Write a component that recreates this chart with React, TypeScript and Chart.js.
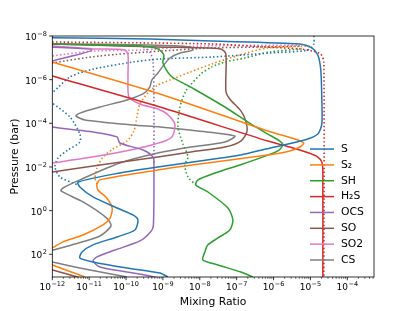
import React, { useEffect, useRef } from "react";
import { Chart, registerables } from "chart.js";
Chart.register(...registerables);

// ---------- data (mixing ratio, pressure in bar) ----------
const speciesNames = ["S", "S₂", "SH", "H₂S", "OCS", "SO", "SO2", "CS"];
const speciesColors = ["#1f77b4", "#ff7f0e", "#2ca02c", "#d62728", "#9467bd", "#8c564b", "#e377c2", "#7f7f7f"];

const sSolid = [[6e-13,1.15e-8],[1e-12,1.2e-8],[4.4e-10,1.37e-8],[2.1e-8,1.69e-8],[5.2e-6,2.3e-8],[1.09e-5,3.5e-8],[1.59e-5,7.4e-8],[1.91e-5,3.6e-7],[2.04e-5,8.5e-6],[2.04e-5,1.07e-4],[1.59e-5,3.1e-4],[7.0e-6,5.8e-4],[6.2e-7,1.5e-3],[1.3e-7,2.8e-3],[1.0e-8,5.3e-3],[7.3e-10,1.0e-2],[6.8e-11,1.89e-2],[5.0e-12,4.9e-2],[5.6e-12,8.3e-2],[1.27e-11,0.237],[5.7e-11,0.76],[1.54e-10,1.58],[2.1e-10,2.7],[1.74e-10,7.7],[5.7e-11,16.1],[1.27e-11,37],[6.4e-12,78],[5.6e-12,148],[1.27e-11,224],[1.06e-10,425],[8.3e-10,720],[1.36e-9,1.1e3]];
const sDotted = [[1.24e-5,1e-8],[1.24e-5,2.3e-8],[8.5e-6,4.4e-8],[7.9e-7,6.0e-8],[2.1e-8,9.2e-8],[8.3e-10,1.13e-7],[1.54e-10,1.55e-7],[1.27e-11,3.3e-7],[3.0e-12,7.5e-7],[1.05e-12,3.7e-6],[6.3e-13,6.2e-6],[1e-12,1.17e-5],[3.0e-12,5.1e-5],[5.6e-12,3.1e-4],[5.6e-12,7.2e-4],[2.66e-12,1.67e-3],[1.43e-12,3.9e-3],[1.18e-12,1.0e-2],[1.62e-12,2.9e-2],[5.0e-12,6.7e-2]];

const s2Solid = [[4.6e-13,1.02e-7],[1e-12,1.55e-7],[8.3e-10,4.5e-6],[7.0e-7,2.25e-4],[3.8e-6,5.2e-4],[6.6e-6,8.0e-4],[5.2e-6,1.22e-3],[2.77e-6,1.85e-3],[7.0e-7,2.8e-3],[1.0e-8,7.3e-3],[7.3e-10,1.37e-2],[1.96e-11,3.9e-2],[1.63e-11,6.0e-2],[1.73e-11,0.113],[3.0e-11,0.264],[4.2e-11,0.76],[3.7e-11,2.2],[2.37e-11,4.5],[6.8e-12,13.1],[1.95e-12,27],[1e-12,51],[4.6e-13,87],[4.6e-13,182],[1e-12,309],[7.7e-12,1.1e3]];
const s2Dotted = [[9.6e-6,2.9e-8],[7.0e-7,3.5e-8],[1.22e-7,7.4e-8],[2.1e-8,1.92e-7],[5.4e-9,4.5e-7],[1.55e-9,1.04e-6],[7.3e-10,1.76e-6],[4.4e-10,3.3e-6],[2.38e-10,1.3e-5],[1.97e-10,5.1e-5],[1.64e-10,2.25e-4],[1.06e-10,6.5e-4],[4.4e-11,1.5e-3],[2.37e-11,3.5e-3],[1.63e-11,1.11e-2],[1.44e-11,3.2e-2],[1.63e-11,6.0e-2]];

const shSolid = [[1e-12,2.3e-8],[2.38e-10,2.9e-8],[7.3e-10,3.9e-8],[1.06e-9,7.4e-8],[1.0e-9,1.73e-7],[1.65e-9,6.8e-7],[5.7e-9,2.2e-6],[4.8e-8,1.79e-5],[2.4e-7,1.07e-4],[7.0e-7,3.1e-4],[1.48e-6,6.5e-4],[1.79e-6,9.8e-4],[1.31e-6,1.85e-3],[6.2e-7,3.1e-3],[1.22e-7,8.1e-3],[2.6e-8,1.89e-2],[8.9e-9,3.9e-2],[7.8e-9,6.7e-2],[1.66e-8,0.14],[5.8e-8,0.76],[7.9e-8,2.7],[6.5e-8,7.7],[3.1e-8,17.9],[1.66e-8,37],[1.37e-8,78],[1.21e-8,182],[3.1e-8,309],[1.3e-7,650],[2.75e-7,1.1e3]];
const shDotted = [[5.8e-6,3.9e-8],[7.9e-7,5.4e-8],[1.67e-7,1.02e-7],[4.8e-8,1.55e-7],[2.1e-8,2.6e-7],[1.07e-8,5.5e-7],[4.2e-9,3.3e-6],[2.9e-9,1.79e-5],[2.55e-9,1.48e-4],[3.5e-9,8.9e-4],[4.8e-9,3.5e-3],[3.9e-9,8.1e-3],[4.8e-9,2.9e-2],[7.8e-9,6.7e-2]];

const h2sSolid = [[4.6e-13,4.5e-7],[1e-12,6.8e-7],[8.3e-10,1.79e-5],[7.0e-7,6.5e-4],[2.77e-6,1.22e-3],[9.1e-6,2.3e-3],[1.59e-5,3.5e-3],[2.04e-5,5.9e-3],[2.17e-5,1.37e-2],[2.17e-5,1.1e3]];
const h2sDotted = [[1e-12,1.88e-8],[2.1e-8,2.3e-8],[6.2e-7,3.2e-8],[5.2e-6,3.9e-8],[1.16e-5,4.9e-8],[1.91e-5,6.7e-8],[2.31e-5,1.55e-7],[2.31e-5,1.1e3]];

const ocsSolid = [[2.5e-13,2.6e-8],[1e-12,3.2e-8],[1.19e-11,4.4e-8],[1e-12,1.4e-7],[2.5e-13,2.9e-7],[2.5e-13,7.0e-5],[1e-12,1.48e-4],[1.27e-11,2.5e-4],[5.7e-11,4.2e-4],[6.8e-11,8.0e-4],[2.87e-10,1.67e-3],[5.4e-10,3.5e-3],[5.7e-10,8.1e-3],[5.5e-10,5.0],[4.6e-10,9.5],[2.38e-10,24.5],[5.0e-11,64],[1.63e-11,132],[1.27e-11,200],[1.96e-11,385],[1.06e-10,650],[4.4e-10,985],[7.3e-10,1.2e3]];
const ocsDotted = [[1e-12,2.3e-8],[2.38e-10,2.9e-8],[4.4e-10,5.4e-8],[5.4e-10,1.55e-7],[5.7e-10,8.5e-6],[5.7e-10,8.1e-3]];

const soSolid = [[1e-12,2.3e-8],[7.3e-10,3.2e-8],[3.7e-8,3.9e-8],[5.1e-8,6.7e-8],[5.1e-8,3.3e-6],[6.5e-8,7.7e-6],[1.3e-7,2.7e-5],[1.77e-7,7.8e-5],[1.89e-7,2.5e-4],[1.3e-7,6.5e-4],[4.8e-8,1.22e-3],[5.7e-9,2.06e-3],[7.3e-10,3.5e-3],[1.96e-11,8.1e-3],[1e-12,1.7e-2],[2.5e-13,2.3e-2],[2.5e-13,309],[1e-12,525],[5.6e-12,1.2e3]];
const soDotted = [[2.5e-13,3.6e-7],[1.05e-12,1.73e-7],[1.96e-11,8.2e-8],[8.3e-10,4.9e-8],[2.3e-8,3.5e-8],[4.3e-7,3.2e-8],[5.2e-6,2.9e-8]];

const so2Solid = [[2.5e-13,2.6e-8],[1e-12,2.9e-8],[1.27e-11,3.9e-8],[9.3e-11,4.4e-8],[1.13e-10,7.4e-8],[1.13e-10,7.5e-7],[1.2e-10,6.2e-6],[2.38e-10,1.3e-5],[7.3e-10,2.2e-5],[1.28e-9,3.7e-5],[2.0e-9,8.7e-5],[2.1e-9,1.64e-4],[1.76e-9,4.2e-4],[1.13e-9,6.5e-4],[6.1e-10,8.9e-4],[2.38e-10,1.35e-3],[1.96e-11,3.1e-3],[1e-12,6.6e-3],[2.5e-13,9.0e-3]];
const so2Dotted = [[2.5e-13,1.26e-7],[1e-12,8.2e-8],[1.27e-11,4.9e-8],[2.38e-10,4.4e-8],[1e-8,2.9e-8],[5.2e-6,2.6e-8]];

const csSolid = [[2.5e-13,2.3e-8],[1e-12,2.3e-8],[4.4e-10,2.6e-8],[5.7e-9,3.2e-8],[6.5e-9,4.4e-8],[2.9e-9,6.0e-8],[1.55e-9,1.02e-7],[1e-9,2.4e-7],[7.3e-10,5.0e-7],[5.0e-10,1.04e-6],[4.4e-10,2.2e-6],[2.87e-10,4.5e-6],[1.06e-10,8.5e-6],[1.96e-11,1.79e-5],[5.6e-12,3.4e-5],[4.4e-12,4.6e-5],[7.7e-12,7.0e-5],[1.54e-10,1.19e-4],[8.3e-10,1.48e-4],[8.9e-9,2.25e-4],[8.9e-8,3.8e-4],[4.8e-8,7.2e-4],[5.7e-9,1.22e-3],[7.3e-10,2.3e-3],[6.8e-11,6.6e-3],[5.6e-12,3.9e-2],[1.95e-12,9.2e-2],[1.72e-12,0.126],[6.8e-12,0.40],[3.0e-11,2.2],[3.9e-11,5.0],[1.96e-11,14.5],[4.1e-12,34],[1.05e-12,64],[4.6e-13,97],[4.6e-13,148],[1e-12,224],[1.05e-11,525],[1.06e-10,1.1e3]];

const solidSeries = [sSolid, s2Solid, shSolid, h2sSolid, ocsSolid, soSolid, so2Solid, csSolid];
const dottedSeries = [sDotted, s2Dotted, shDotted, h2sDotted, ocsDotted, soDotted, so2Dotted, null];

// ---------- axes ----------
const X_MIN = 1e-12, X_MAX = 5.3e-4, Y_MIN = 1e-8, Y_MAX = 1.1e3;
const xMajor = [1e-12, 1e-11, 1e-10, 1e-9, 1e-8, 1e-7, 1e-6, 1e-5, 1e-4];
const xMajorExp = ["−12", "−11", "−10", "−9", "−8", "−7", "−6", "−5", "−4"];
const yMajor = [1e-8, 1e-6, 1e-4, 1e-2, 1, 1e2];
const yMajorExp = ["−8", "−6", "−4", "−2", "0", "2"];
const xLabel = "Mixing Ratio";
const yLabel = "Pressure (bar)";

const FONT = "'DejaVu Sans', sans-serif";

function drawPow(ctx: CanvasRenderingContext2D, exp: string, x: number, baseline: number, align: "center" | "right") {
  ctx.font = `9px ${FONT}`;
  const wb = ctx.measureText("10").width;
  ctx.font = `6.5px ${FONT}`;
  const we = ctx.measureText(exp).width;
  const total = wb + we + 0.5;
  const start = align === "center" ? x - total / 2 : x - total;
  ctx.textAlign = "left";
  ctx.textBaseline = "alphabetic";
  ctx.font = `9px ${FONT}`;
  ctx.fillText("10", start, baseline);
  ctx.font = `6.5px ${FONT}`;
  ctx.fillText(exp, start + wb + 0.5, baseline - 4);
}

const mplPlugin = {
  id: "mplAxes",
  afterDraw(chart: any) {
    const { ctx, chartArea: a, scales } = chart;
    const xs = scales.x, ys = scales.y;
    ctx.save();
    ctx.fillStyle = "#000";
    ctx.strokeStyle = "#000";
    // legend (lower right, no frame)
    const rowGap = 15.85;
    for (let i = 0; i < speciesNames.length; i++) {
      const yy = a.bottom - 17 - (speciesNames.length - 1 - i) * rowGap;
      ctx.strokeStyle = speciesColors[i];
      ctx.lineWidth = 1.5;
      ctx.beginPath();
      ctx.moveTo(a.right - 64, yy);
      ctx.lineTo(a.right - 40, yy);
      ctx.stroke();
      ctx.fillStyle = "#000";
      ctx.font = `10.8px ${FONT}`;
      ctx.textAlign = "left";
      ctx.textBaseline = "middle";
      ctx.fillText(speciesNames[i], a.right - 33, yy);
    }
    // spines
    ctx.strokeStyle = "#000";
    ctx.lineWidth = 0.8;
    ctx.strokeRect(a.left, a.top, a.right - a.left, a.bottom - a.top);
    // x ticks
    ctx.lineWidth = 0.8;
    xMajor.forEach((v, i) => {
      const px = xs.getPixelForValue(v);
      ctx.beginPath();
      ctx.moveTo(px, a.bottom);
      ctx.lineTo(px, a.bottom + 3.2);
      ctx.stroke();
      ctx.fillStyle = "#000";
      drawPow(ctx, xMajorExp[i], px, a.bottom + 12.5, "center");
    });
    ctx.lineWidth = 0.6;
    xMajor.forEach((m) => {
      for (let k = 2; k <= 9; k++) {
        const v = m * k;
        if (v > X_MAX) break;
        const px = xs.getPixelForValue(v);
        ctx.beginPath();
        ctx.moveTo(px, a.bottom);
        ctx.lineTo(px, a.bottom + 1.8);
        ctx.stroke();
      }
    });
    // y ticks
    ctx.lineWidth = 0.8;
    yMajor.forEach((v, i) => {
      const py = ys.getPixelForValue(v);
      ctx.beginPath();
      ctx.moveTo(a.left, py);
      ctx.lineTo(a.left - 3.2, py);
      ctx.stroke();
      drawPow(ctx, yMajorExp[i], a.left - 5.5, py + 4, "right");
    });
    // axis titles
    ctx.font = `10.8px ${FONT}`;
    ctx.textAlign = "center";
    ctx.textBaseline = "alphabetic";
    ctx.fillText(xLabel, (a.left + a.right) / 2, a.bottom + 28);
    ctx.save();
    ctx.translate(18.3, (a.top + a.bottom) / 2);
    ctx.rotate(-Math.PI / 2);
    ctx.fillText(yLabel, 0, 0);
    ctx.restore();
    ctx.restore();
  },
};

function toPts(arr: number[][]) {
  return arr.map(([x, y]) => ({ x, y }));
}

export default function App() {
  const ref = useRef<HTMLCanvasElement>(null);
  useEffect(() => {
    document.body.style.margin = "0";
    const datasets: any[] = [];
    solidSeries.forEach((s, i) => {
      datasets.push({
        label: speciesNames[i],
        data: toPts(s),
        borderColor: speciesColors[i],
        borderWidth: 1.5,
        pointRadius: 0,
        showLine: true,
        tension: 0.25,
        fill: false,
      });
    });
    dottedSeries.forEach((s, i) => {
      if (!s) return;
      datasets.push({
        label: speciesNames[i] + " (dotted)",
        data: toPts(s),
        borderColor: speciesColors[i],
        borderWidth: 1.6,
        borderDash: [1.5, 2.3],
        pointRadius: 0,
        showLine: true,
        tension: 0.25,
        fill: false,
      });
    });
    const chart = new Chart(ref.current!, {
      type: "scatter",
      data: { datasets },
      options: {
        animation: false,
        responsive: false,
        devicePixelRatio: 1,
        layout: { padding: { left: 0, right: 41, top: 36, bottom: 0 } },
        plugins: { legend: { display: false }, tooltip: { enabled: false } },
        scales: {
          x: {
            type: "logarithmic",
            min: X_MIN,
            max: X_MAX,
            grid: { display: false, drawTicks: false },
            border: { display: false },
            ticks: { display: false },
            afterFit: (s: any) => { s.height = 34; },
          },
          y: {
            type: "logarithmic",
            reverse: true,
            min: Y_MIN,
            max: Y_MAX,
            grid: { display: false, drawTicks: false },
            border: { display: false },
            ticks: { display: false },
            afterFit: (s: any) => { s.width = 52.3; },
          },
        },
      } as any,
      plugins: [mplPlugin],
    });
    return () => chart.destroy();
  }, []);
  return (
    <div style={{ position: "absolute", left: 0, top: 0, width: 415, height: 311, background: "#fff" }}>
      <canvas ref={ref} width={415} height={311} style={{ width: 415, height: 311, display: "block" }} />
    </div>
  );
}
